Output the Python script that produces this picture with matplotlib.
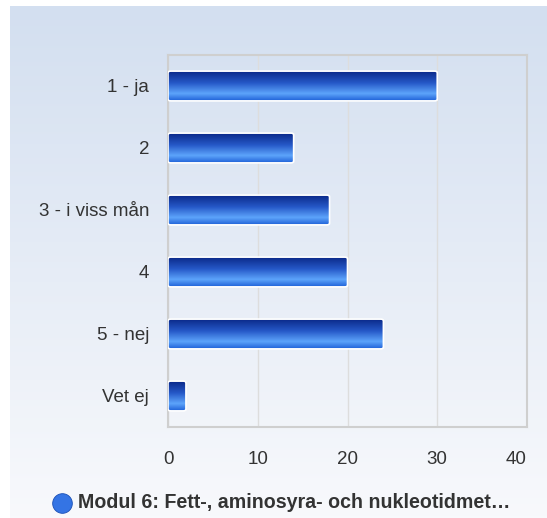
import matplotlib.pyplot as plt
import numpy as np
from matplotlib.colors import LinearSegmentedColormap
from matplotlib.patches import FancyBboxPatch

categories = ['1 - ja', '2', '3 - i viss mån', '4', '5 - nej', 'Vet ej']
values = [30, 14, 18, 20, 24, 2]
xticks = [0, 10, 20, 30, 40]
series_name = 'Modul 6: Fett-, aminosyra- och nukleotidmet…'

plt.rcParams['font.family'] = ['Liberation Sans', 'DejaVu Sans']

bar_cmap = LinearSegmentedColormap.from_list(
    'bar', [(0, '#0a2888'), (0.4, '#2659c8'), (0.75, '#5da4fb'), (1, '#1d5fd6')])
bg_cmap = LinearSegmentedColormap.from_list('bg', ['#d3dff0', '#f8f9fc'])

fig = plt.figure(figsize=(5.47, 5.18), dpi=100)

# page background gradient
bg = fig.add_axes([10 / 547, 0, 537 / 547, 512 / 518])
bg.imshow(np.linspace(0, 1, 256).reshape(-1, 1), aspect='auto', cmap=bg_cmap,
          extent=[0, 1, 0, 1])
bg.set_axis_off()

ax = fig.add_axes([168 / 547, 1 - 427 / 518, 359 / 547, 372 / 518])
ax.set_facecolor('none')
y = np.arange(len(categories))
bars = ax.barh(y, values, height=0.48, color='none', edgecolor='none')
grad = np.linspace(0, 1, 256).reshape(-1, 1)
for b in bars:
    x0, y0, w, h = b.get_x(), b.get_y(), b.get_width(), b.get_height()
    shape = FancyBboxPatch((x0, y0), w, h, boxstyle='round,pad=0,rounding_size=0.3',
                           mutation_aspect=0.08, facecolor='none', edgecolor='white',
                           linewidth=1.2, zorder=4)
    ax.add_patch(shape)
    im = ax.imshow(grad, aspect='auto', cmap=bar_cmap, extent=[x0, x0 + w, y0 + h, y0],
                   zorder=3)
    im.set_clip_path(shape)

ax.set_xlim(0, 40)
ax.set_ylim(len(categories) - 0.5, -0.5)
ax.set_xticks(xticks)
ax.set_yticks(y)
ax.set_yticklabels(categories)
ax.tick_params(length=0, labelsize=13.5, colors='#333333')
ax.tick_params(axis='x', pad=17)
ax.tick_params(axis='y', pad=13.5)
ax.get_xticklabels()[-1].set_horizontalalignment('right')
ax.grid(axis='x', color='#dddddd', linewidth=1)
ax.set_axisbelow(True)
for s in ax.spines.values():
    s.set_color('#cfcfcf')
    s.set_linewidth(1.5)

# legend
leg = fig.add_axes([0, 0, 1, 1])
leg.set_axis_off()
leg.set_xlim(0, 547)
leg.set_ylim(518, 0)
leg.scatter([62], [503], s=200, color='#3474e4', edgecolor='#1a4fb5', linewidth=0.6)
leg.text(78, 503, series_name, fontsize=14.1, fontweight='bold', color='#333333',
         va='center', ha='left')

fig.savefig('out.png', dpi=100)
